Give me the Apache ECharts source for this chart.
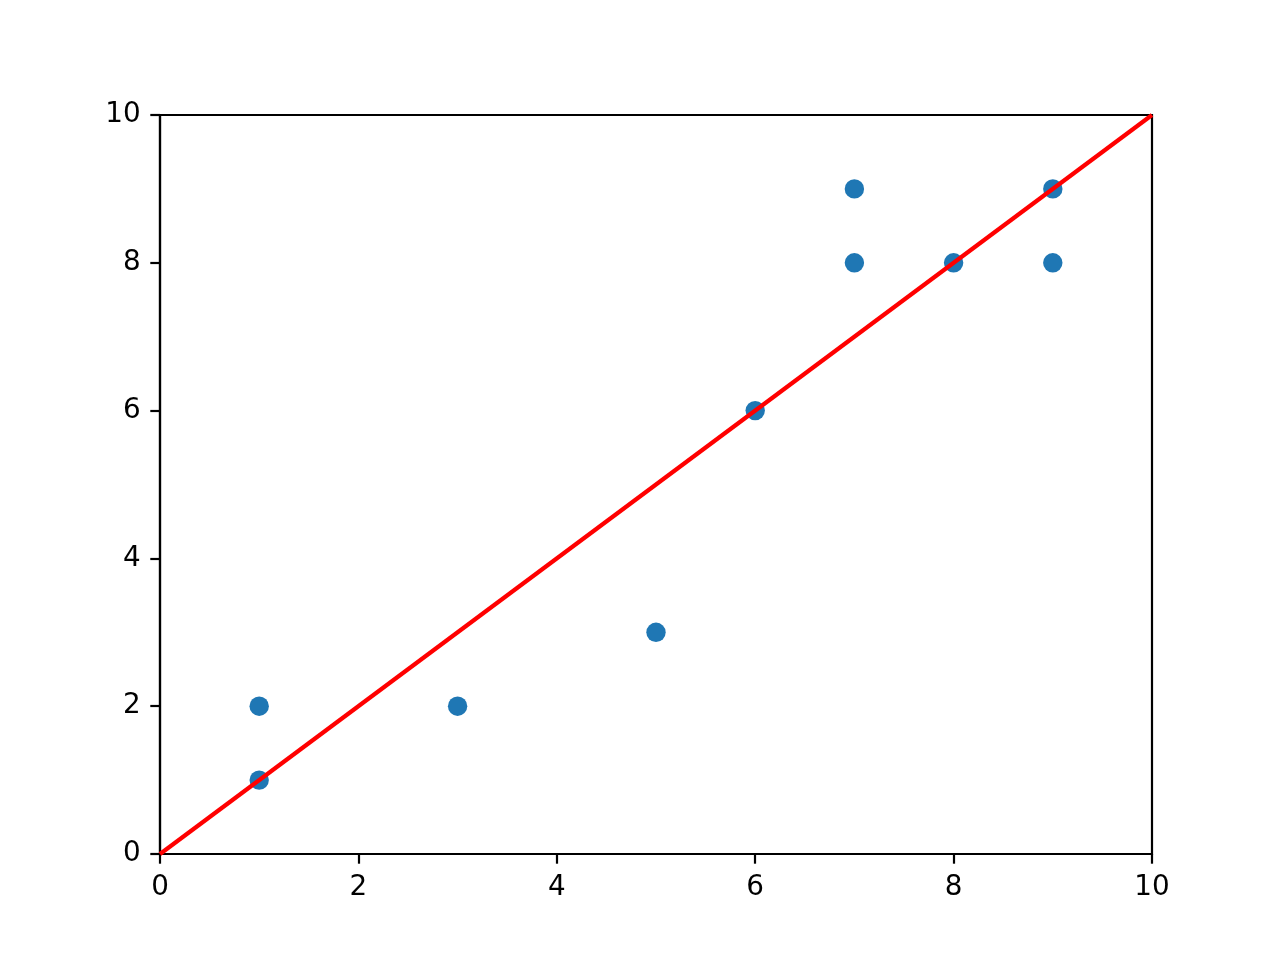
<!DOCTYPE html>
<html><head><meta charset="utf-8">
<script src="https://cdn.jsdelivr.net/npm/echarts@6/dist/echarts.min.js"></script>
<style>html,body{margin:0;padding:0;background:#fff}#c{width:1280px;height:960px}</style>
</head><body><div id="c"></div>
<script>
const xValues = [1, 1, 3, 5, 6, 7, 7, 8, 9, 9];
const yValues = [1, 2, 2, 3, 6, 8, 9, 8, 8, 9];
const lineX = [0, 10];
const lineY = [0, 10];
const axisTicks = [0, 2, 4, 6, 8, 10];

const chart = echarts.init(document.getElementById('c'), null, {renderer: 'canvas'});
const font = 'DejaVu Sans';
const axisCommon = {
  type: 'value', min: 0, max: 10, interval: 2,
  axisLine: {show: true, onZero: false, lineStyle: {color: '#000', width: 2.2}},
  axisTick: {show: true, inside: false, length: 9.7, lineStyle: {color: '#000', width: 2.2}},
  splitLine: {show: false},
  axisLabel: {color: '#000', fontFamily: font, fontSize: 27.8, margin: 19.4,
    formatter: v => axisTicks.includes(v) ? String(v) : ''}
};
chart.setOption({
  animation: false,
  backgroundColor: '#fff',
  grid: {left: 160, right: 128, top: 115, bottom: 106, show: true, borderColor: '#000', borderWidth: 2.2, backgroundColor: 'transparent'},
  xAxis: Object.assign({}, axisCommon, {position: 'bottom'}),
  yAxis: Object.assign({}, axisCommon, {position: 'left'}),
  series: [
    {type: 'scatter', data: xValues.map((x, i) => [x, yValues[i]]), symbolSize: 19.4,
     itemStyle: {color: '#1f77b4', opacity: 1}, z: 2},
    {type: 'line', data: lineX.map((x, i) => [x, lineY[i]]), showSymbol: false, symbol: 'none',
     lineStyle: {color: '#ff0000', width: 4.2}, z: 3}
  ]
});
</script></body></html>
